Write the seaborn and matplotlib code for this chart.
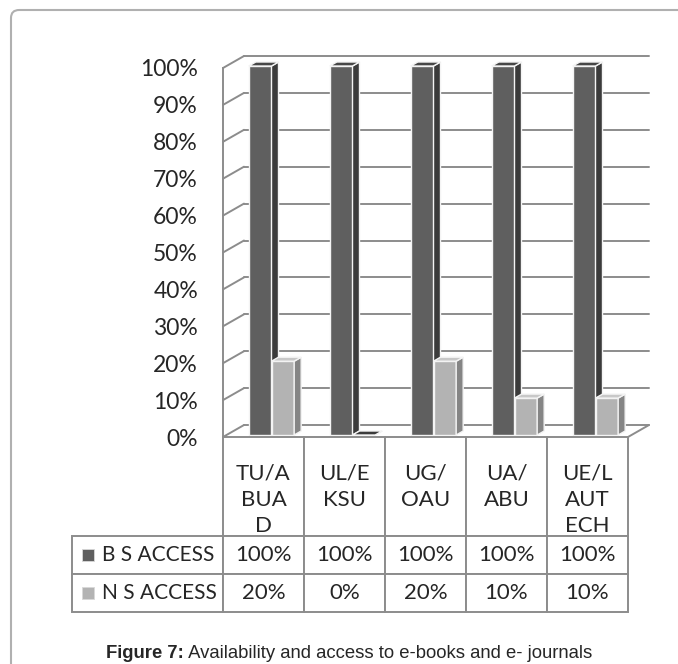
import numpy as np
import pandas as pd
import seaborn as sns
import matplotlib.pyplot as plt
from matplotlib import transforms
from matplotlib.patches import Polygon, FancyBboxPatch

# data
categories = ["TU/ABUAD", "UL/EKSU", "UG/OAU", "UA/ABU", "UE/LAUTECH"]
header_labels = ["TU/A\nBUA\nD", "UL/E\nKSU", "UG/\nOAU", "UA/\nABU", "UE/L\nAUT\nECH"]
series = ["B S ACCESS", "N S ACCESS"]
bs_access = [1.00, 1.00, 1.00, 1.00, 1.00]
ns_access = [0.20, 0.00, 0.20, 0.10, 0.10]
y_ticks = [0.0, 0.1, 0.2, 0.3, 0.4, 0.5, 0.6, 0.7, 0.8, 0.9, 1.0]
caption_bold = "Figure 7:"
caption_text = " Availability and access to e-books and e- journals"

front_colors = {"B S ACCESS": "#5f5f5f", "N S ACCESS": "#b3b3b3"}
side_colors = {"B S ACCESS": "#3b3b3b", "N S ACCESS": "#858585"}
top_colors = {"B S ACCESS": "#474747", "N S ACCESS": "#c8c8c8"}
grid_color = "#8c8c8c"

sns.set_style("white")
plt.rcParams["font.family"] = ["Lato", "DejaVu Sans"]

W, H = 678, 664
fig = plt.figure(figsize=(W / 100, H / 100), dpi=100)
ax = fig.add_axes([223 / W, 1 - 437 / H, (628 - 223) / W, (437 - 68) / H])


def shift(dx, dy):
    # pixel offset (at 100 dpi)
    return ax.transData + transforms.ScaledTranslation(dx / 100, dy / 100, fig.dpi_scale_trans)


df = pd.DataFrame({
    "campus": categories * 2,
    "series": [series[0]] * len(categories) + [series[1]] * len(categories),
    "value": bs_access + ns_access,
})

sns.barplot(data=df, x="campus", y="value", hue="series", palette=front_colors,
            width=0.56, edgecolor="#f4f4f4", linewidth=1, legend=False, ax=ax)
ax.set_xlim(-0.5, len(categories) - 0.5)
ax.set_ylim(0, 1)

# pixels per data unit, used for the fake 3D depth
p0 = ax.transData.transform((0, 0))
p1 = ax.transData.transform((1, 1))
ux, uy = p1[0] - p0[0], p1[1] - p0[1]

# back wall, side wall and floor
wall_dx, wall_dy = 21 / ux, 12 / uy
x_lo, x_hi = -0.5, len(categories) - 0.5
for v in y_ticks:
    ax.plot([x_lo, x_hi], [v, v], transform=shift(21, 12), color=grid_color,
            lw=1.4, zorder=1, clip_on=False)
    ax.plot([x_lo, x_lo + wall_dx], [v, v + wall_dy], color=grid_color,
            lw=1.4, zorder=1, clip_on=False)
ax.plot([x_hi, x_hi + wall_dx], [0, wall_dy], color=grid_color, lw=1.4, zorder=1, clip_on=False)

# bars: move the fronts a bit back and add side and top faces
bar_dx, bar_dy = 7 / ux, 4 / uy
bars = [p for p in ax.patches]
n = len(categories)
for i, bar in enumerate(bars):
    name = series[0] if i < n else series[1]
    z = 3 if i < n else 4
    tr = shift(8, 2)
    bar.set_transform(tr)
    bar.set_zorder(z)
    bar.set_clip_on(False)
    x0, w, h = bar.get_x(), bar.get_width(), bar.get_height()
    side = Polygon([(x0 + w, 0), (x0 + w + bar_dx, bar_dy), (x0 + w + bar_dx, h + bar_dy), (x0 + w, h)],
                   closed=True, facecolor=side_colors[name], edgecolor="#f4f4f4", lw=1,
                   transform=tr, zorder=z + 0.1, clip_on=False)
    top_col = top_colors[name] if h > 0 else side_colors[series[0]]
    top = Polygon([(x0, h), (x0 + bar_dx, h + bar_dy), (x0 + w + bar_dx, h + bar_dy), (x0 + w, h)],
                  closed=True, facecolor=top_col, edgecolor="#f4f4f4", lw=1,
                  transform=tr, zorder=z + 0.1, clip_on=False)
    ax.add_patch(side)
    ax.add_patch(top)

for s in ["top", "right", "bottom"]:
    ax.spines[s].set_visible(False)
ax.spines["left"].set_color(grid_color)
ax.spines["left"].set_linewidth(1.4)
ax.set_xticks([])
ax.set_xlabel("")
ax.set_ylabel("")
ax.set_yticks(y_ticks)
ax.set_yticklabels([f"{v:.0%}" for v in y_ticks])
ax.tick_params(axis="y", length=0, pad=18, labelsize=16.5)

# data table under the chart (bbox covers the data columns only)
col_w, label_w, head_h, row_h = 81, 151, 99, 38
tbl_h = head_h + 2 * row_h
cell_text = [[f"{v:.0%}" for v in bs_access], [f"{v:.0%}" for v in ns_access]]
col_labels = ["\n" + lab + "\n " * (2 - lab.count("\n")) for lab in header_labels]
tbl = ax.table(cellText=cell_text, colLabels=col_labels, cellLoc="center",
               bbox=[0, -tbl_h / uy, 1, tbl_h / uy])
for r, name in zip([1, 2], series):
    tbl.add_cell(r, -1, width=label_w, height=row_h, text=name, loc="left")
tbl.auto_set_font_size(False)
tbl.set_fontsize(16)
tbl.set_zorder(5)
for (r, c), cell in tbl.get_celld().items():
    cell.set_edgecolor(grid_color)
    cell.set_linewidth(1.4)
    cell.set_width(label_w if c == -1 else col_w)
    cell.set_height(head_h if r == 0 else row_h)
    if r == 0:
        cell.get_text().set_linespacing(1.38)
    if c == -1:
        cell.PAD = 0.2
        cell.get_text().set_fontsize(15)

# legend keys inside the row label cells
ax_w = ax.bbox.width
for r, name in zip([1, 2], series):
    kx = (-label_w + 0.105 * label_w) / ax_w
    ky = -(head_h + (r - 0.5) * row_h) / uy
    ax.plot([kx], [ky], marker="s", markersize=8, color=front_colors[name],
            markeredgecolor="#d8d8d8", markeredgewidth=0.6, linestyle="none",
            transform=ax.transAxes, clip_on=False, zorder=20)

# caption
fig.canvas.draw()
renderer = fig.canvas.get_renderer()
cy = 1 - 653 / H
t1 = fig.text(0, cy, caption_bold, fontsize=13.3, weight="bold", family="Liberation Sans", va="center")
t2 = fig.text(0, cy, caption_text, fontsize=13.3, family="Liberation Sans", va="center")
w1 = t1.get_window_extent(renderer).width
w2 = t2.get_window_extent(renderer).width
x_start = 349 - (w1 + w2) / 2
t1.set_x(x_start / W)
t2.set_x((x_start + w1) / W)

# outer frame of the figure panel
frame = FancyBboxPatch((11 / W, -0.2), 1.2, 1 - 10 / H + 0.2, transform=fig.transFigure,
                       boxstyle="round,pad=0,rounding_size=0.012", facecolor="none",
                       edgecolor="#b0b0b0", lw=1.5)
fig.patches.append(frame)

fig.savefig("out.png", dpi=100)
